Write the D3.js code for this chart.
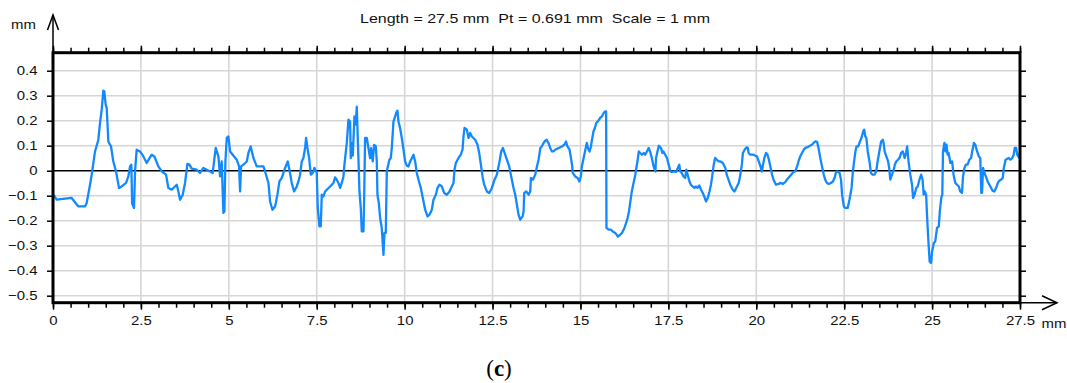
<!DOCTYPE html>
<html><head><meta charset="utf-8">
<script src="https://cdn.jsdelivr.net/npm/d3@7"></script>
<style>
html,body{margin:0;padding:0;background:#fff;}
svg{display:block;}
text{font-family:"Liberation Sans",Arial,sans-serif;}
</style></head>
<body><svg id="c" width="1067" height="383"></svg>
<script>
const titleText = "Length = 27.5 mm  Pt = 0.691 mm  Scale = 1 mm";
const xUnit = "mm", yUnit = "mm", caption = "c";
const xMajorTicks = [0,2.5,5,7.5,10,12.5,15,17.5,20,22.5,25,27.5];
const yTicks = [-0.5,-0.4,-0.3,-0.2,-0.1,0,0.1,0.2,0.3,0.4];

const profileX = [0,0.104,0.531,0.721,0.910,0.958,1.053,1.100,1.195,1.290,1.337,1.385,1.432,1.460,1.498,1.527,1.574,1.650,1.716,1.792,1.878,1.954,2.077,2.143,2.191,2.228,2.250,2.304,2.333,2.380,2.475,2.570,2.665,2.807,2.883,2.997,3.092,3.215,3.281,3.376,3.518,3.566,3.613,3.689,3.755,3.822,3.879,3.945,4.087,4.182,4.277,4.372,4.467,4.542,4.580,4.628,4.704,4.751,4.798,4.846,4.874,4.903,4.941,4.988,5.036,5.111,5.225,5.292,5.320,5.348,5.415,5.510,5.557,5.623,5.699,5.794,5.984,6.031,6.126,6.174,6.240,6.316,6.382,6.439,6.506,6.600,6.676,6.724,
6.790,6.856,6.932,6.979,7.027,7.074,7.122,7.169,7.198,7.236,7.283,7.331,7.387,7.435,7.482,7.501,7.529,7.577,7.615,7.643,7.691,7.738,7.786,7.880,7.975,8.023,8.070,8.118,8.165,8.212,8.260,8.288,8.355,8.402,8.449,8.468,8.497,8.525,8.573,8.610,8.639,8.667,8.686,8.715,8.753,8.781,8.829,8.848,8.876,8.924,8.971,9.018,9.047,9.094,9.132,9.180,9.208,9.227,9.265,9.303,9.350,9.398,9.426,9.464,9.493,9.568,9.606,9.635,9.682,9.730,9.758,9.796,9.825,9.872,9.919,9.967,10.014,10.062,10.109,10.157,10.204,10.252,10.299,10.346,10.394,10.460,10.517,10.583,10.650,10.707,10.773,10.820,10.887,10.935,10.992,11.058,11.124,11.200,11.276,11.342,11.390,11.418,11.456,11.532,11.598,11.646,11.674,11.703,11.769,11.817,11.864,11.911,12.006,12.073,12.120,12.168,12.215,12.262,12.338,12.405,12.481,12.556,12.623,12.699,12.746,12.794,12.860,12.908,12.974,13.031,13.097,13.145,13.192,13.240,13.287,13.354,13.382,13.401,13.458,13.524,13.572,13.591,13.648,13.714,13.762,13.809,
13.86,13.90,13.95,14.00,14.04,14.09,14.14,14.19,14.23,14.28,14.38,14.47,14.54,14.59,14.63,14.69,14.73,14.76,14.78,14.85,14.92,14.97,15.01,15.04,15.09,15.14,15.18,15.23,15.26,15.30,15.32,15.37,15.41,15.45,15.51,15.56,15.61,15.66,15.70,15.73,15.74,15.80,15.87,15.92,15.99,16.06,16.13,16.18,16.25,16.30,16.34,16.38,16.42,16.46,16.51,16.56,16.59,16.62,16.66,16.70,16.75,16.80,16.84,16.89,16.94,16.98,17.03,17.08,17.13,17.15,17.19,17.23,17.29,17.33,17.36,17.41,17.46,17.51,17.56,17.60,17.67,17.72,17.76,17.81,17.84,17.88,17.93,17.98,18.01,18.05,18.10,18.14,18.19,18.24,18.28,18.33,18.38,18.43,18.48,18.52,18.57,18.62,18.67,18.71,18.74,18.79,18.83,18.88,18.93,18.98,19.05,19.12,19.16,19.21,19.26,19.33,19.38,19.43,19.50,19.53,19.56,19.59,19.62,19.67,19.72,19.76,19.78,19.83,19.92,20.02,20.07,20.12,20.16,20.19,20.23,20.28,20.32,20.36,20.40,20.45,20.49,20.56,20.64,20.68,20.76,20.83,20.87,20.95,
21.01,21.06,21.11,21.16,21.20,21.25,21.30,21.35,21.39,21.44,21.49,21.54,21.58,21.63,21.68,21.73,21.77,21.82,21.87,21.92,21.96,22.01,22.06,22.12,22.18,22.23,22.27,22.31,22.37,22.41,22.44,22.49,22.53,22.60,22.65,22.71,22.74,22.77,22.82,22.85,22.90,22.95,22.99,23.04,23.07,23.10,23.13,23.17,23.22,23.26,23.31,23.36,23.41,23.45,23.50,23.55,23.60,23.62,23.65,23.70,23.75,23.78,23.81,23.86,23.91,23.94,23.98,24.03,24.08,24.12,24.17,24.22,24.26,24.29,24.33,24.38,24.43,24.46,24.50,24.55,24.59,24.64,24.69,24.73,24.76,24.79,24.83,24.86,24.89,24.93,24.97,25.00,25.05,25.09,25.14,25.19,25.22,25.26,25.29,25.31,25.35,25.38,25.41,25.44,25.47,25.52,25.57,25.61,25.66,25.71,25.76,25.80,25.85,25.88,25.92,25.96,26.01,26.06,26.11,26.14,26.19,26.23,26.28,26.33,26.37,26.40,26.42,26.45,26.49,26.53,26.58,26.63,26.68,26.72,26.77,26.82,26.87,26.91,26.96,27.01,27.04,27.09,27.13,27.18,27.23,27.28,27.32,27.35,27.39,27.42,27.47,27.50];

const profileY = [-0.093,-0.116,-0.109,-0.143,-0.143,-0.129,-0.056,-0.016,0.077,0.124,0.191,0.244,0.320,0.317,0.264,0.251,0.117,0.097,0.037,-0.003,-0.069,-0.063,-0.049,-0.023,0.017,0.024,-0.130,-0.149,-0.003,0.084,0.077,0.057,0.031,0.064,0.057,0.017,-0.003,-0.016,-0.069,-0.076,-0.056,-0.083,-0.116,-0.096,-0.049,0.027,0.024,0.008,0.004,-0.009,0.011,0.004,-0.003,-0.009,0.037,0.091,0.057,-0.023,0.037,-0.169,-0.163,0.037,0.131,0.137,0.077,0.064,0.044,0.017,-0.083,0.017,0.024,0.037,0.071,0.097,0.051,0.017,0.017,-0.003,-0.049,-0.123,-0.156,-0.143,-0.096,-0.043,-0.029,0.011,0.037,0.004,
-0.049,-0.083,-0.063,-0.043,-0.016,0.037,0.051,0.091,0.131,0.091,0.051,-0.016,-0.009,0.011,-0.003,-0.009,-0.149,-0.223,-0.223,-0.096,-0.103,-0.083,-0.076,-0.063,-0.049,-0.027,-0.036,-0.049,-0.069,-0.049,-0.023,0.024,0.111,0.204,0.197,0.050,0.110,0.060,0.217,0.184,0.256,0.131,0.051,-0.083,-0.150,-0.243,-0.243,-0.116,0.131,0.131,0.091,0.050,0.090,0.037,0.103,0.097,0.037,-0.096,-0.129,-0.189,-0.230,-0.337,-0.249,-0.249,0.000,0.044,0.051,0.091,0.196,0.217,0.231,0.240,0.197,0.170,0.131,0.084,0.037,0.020,0.017,0.037,0.050,0.064,0.037,-0.009,-0.036,-0.069,-0.109,-0.156,-0.183,-0.176,-0.156,-0.116,-0.096,-0.069,-0.056,-0.063,-0.089,-0.096,-0.083,-0.063,-0.049,0.004,0.031,0.051,0.064,0.084,0.137,0.171,0.164,0.131,0.151,0.137,0.124,0.104,0.071,0.024,-0.023,-0.056,-0.083,-0.089,-0.069,-0.036,-0.016,0.037,0.077,0.091,0.064,0.044,0.017,-0.023,-0.069,-0.096,-0.136,-0.176,-0.196,-0.183,-0.163,-0.089,-0.083,-0.096,-0.083,-0.029,-0.036,-0.016,0.017,0.044,
0.091,0.097,0.111,0.120,0.124,0.111,0.091,0.077,0.077,0.084,0.091,0.097,0.104,0.117,0.097,0.084,0.051,0.024,-0.009,-0.023,-0.029,-0.043,-0.023,0.017,0.051,0.084,0.111,0.084,0.077,0.097,0.117,0.157,0.171,0.191,0.200,0.211,0.217,0.231,0.237,0.237,-0.229,-0.236,-0.236,-0.243,-0.249,-0.263,-0.256,-0.249,-0.229,-0.209,-0.189,-0.163,-0.123,-0.083,-0.049,-0.016,0.011,0.037,0.077,0.071,0.064,0.071,0.064,0.077,0.091,0.077,0.051,0.017,-0.003,0.051,0.077,0.100,0.091,0.071,0.077,0.064,0.051,0.024,-0.003,-0.005,-0.003,-0.005,0.008,0.024,-0.003,-0.009,-0.023,-0.029,0.004,-0.016,-0.043,-0.056,-0.063,-0.069,-0.063,-0.069,-0.059,-0.076,-0.089,-0.103,-0.123,-0.109,-0.083,-0.056,-0.029,0.024,0.051,0.044,0.037,0.037,0.031,0.011,-0.016,-0.036,-0.056,-0.076,-0.083,-0.069,-0.049,-0.029,-0.003,0.024,0.071,0.084,0.093,0.091,0.071,0.064,0.064,0.057,0.037,0.017,-0.003,0.024,0.051,0.071,0.064,0.044,0.017,-0.016,-0.036,-0.056,-0.053,-0.049,-0.053,-0.045,-0.036,-0.023,
-0.013,-0.005,-0.003,0.017,0.037,0.057,0.071,0.084,0.091,0.093,0.097,0.101,0.104,0.111,0.117,0.115,0.091,0.051,0.017,-0.016,-0.036,-0.049,-0.053,-0.049,-0.043,-0.027,-0.005,-0.003,-0.009,-0.036,-0.096,-0.143,-0.149,-0.149,-0.116,-0.069,-0.016,0.024,0.077,0.097,0.097,0.117,0.131,0.157,0.164,0.137,0.131,0.077,0.037,-0.009,-0.016,-0.016,-0.003,0.037,0.077,0.117,0.124,0.111,0.077,0.057,0.037,0.011,-0.036,-0.016,0.004,0.024,0.037,0.044,0.053,0.071,0.077,0.051,0.071,0.097,0.037,-0.016,-0.056,-0.109,-0.096,-0.069,-0.063,-0.036,-0.016,-0.036,-0.096,-0.083,-0.096,-0.189,-0.269,-0.363,-0.369,-0.323,-0.289,-0.283,-0.229,-0.223,-0.163,-0.109,-0.096,0.077,0.111,0.077,0.104,0.064,0.071,0.031,0.037,-0.016,-0.049,-0.056,-0.063,-0.083,-0.089,-0.023,0.011,0.024,0.024,0.044,0.051,0.077,0.111,0.104,0.077,0.057,0.051,-0.089,-0.089,0.011,-0.009,-0.023,-0.043,-0.056,-0.069,-0.080,-0.083,-0.069,-0.049,-0.040,-0.036,-0.029,0.011,0.044,0.047,0.051,0.044,0.051,0.064,0.091,0.091,0.064,0.053,0.071];

const svg = d3.select("#c");
const L = 53, R = 1020, T = 52.7, B = 302.7;
const SX = 1.15; // horizontal stretch of the reference's lettering
const x = d3.scaleLinear().domain([0, 27.5]).range([L, R]);
const y = d3.scaleLinear().domain([-0.528, 0.472]).range([B, T]);
const minorTicks = d3.range(0, 27.51, 0.5);

// grid
const grid = svg.append("g");
grid.selectAll("line.v").data(xMajorTicks.filter(d => d > 0 && d < 27.5)).join("line")
  .attr("x1", d => x(d)).attr("x2", d => x(d)).attr("y1", T).attr("y2", B)
  .attr("stroke", "#d6d6d6").attr("stroke-width", 1.6);
grid.selectAll("line.h").data(yTicks.filter(d => d !== 0)).join("line")
  .attr("x1", L).attr("x2", R).attr("y1", d => y(d)).attr("y2", d => y(d))
  .attr("stroke", "#d6d6d6").attr("stroke-width", 1.6);
// zero line
svg.append("line").attr("x1", L).attr("x2", R).attr("y1", y(0)).attr("y2", y(0))
  .attr("stroke", "#000").attr("stroke-width", 1.5);

// profile
const data = profileX.map((d, i) => [d, profileY[i]]);
svg.append("path").datum(data)
  .attr("fill", "none").attr("stroke", "#1289ff").attr("stroke-width", 2.3)
  .attr("stroke-linejoin", "round")
  .attr("d", d3.line().x(d => x(d[0])).y(d => y(d[1])));

function styleAxis(g) {
  g.select(".domain").remove();
  g.selectAll(".tick line").attr("stroke", "#000").attr("stroke-width", 1.5);
  g.selectAll(".tick text").attr("fill", "#111").style("font-size", "13px")
    .style("font-family", '"Liberation Sans", Arial, sans-serif');
}
function stretchText(g) {
  g.selectAll(".tick text").each(function () {
    const t = d3.select(this);
    const tx = +t.attr("x") || 0;
    t.attr("x", 0).attr("transform", `translate(${tx},0) scale(${SX},1)`);
  });
}
// bottom axis
const gb = svg.append("g").attr("transform", `translate(0,${B})`)
  .call(d3.axisBottom(x).tickValues(minorTicks).tickSize(5).tickFormat(""));
styleAxis(gb);
const gbM = svg.append("g").attr("transform", `translate(0,${B})`)
  .call(d3.axisBottom(x).tickValues(xMajorTicks).tickSize(7).tickPadding(6).tickFormat(d3.format("")));
styleAxis(gbM); stretchText(gbM);
// top axis
const gt = svg.append("g").attr("transform", `translate(0,${T})`)
  .call(d3.axisTop(x).tickValues(minorTicks).tickSize(5).tickFormat(""));
styleAxis(gt);
const gtM = svg.append("g").attr("transform", `translate(0,${T})`)
  .call(d3.axisTop(x).tickValues(xMajorTicks).tickSize(7).tickFormat(""));
styleAxis(gtM);
// left axis
const gl = svg.append("g").attr("transform", `translate(${L},0)`)
  .call(d3.axisLeft(y).tickValues(yTicks).tickSize(6).tickPadding(9.5).tickFormat(d3.format("")));
styleAxis(gl); stretchText(gl);
// right axis
const gr = svg.append("g").attr("transform", `translate(${R},0)`)
  .call(d3.axisRight(y).tickValues(yTicks).tickSize(6).tickFormat(""));
styleAxis(gr);

// frame
svg.append("rect").attr("x", L).attr("y", T).attr("width", R - L).attr("height", B - T)
  .attr("fill", "none").attr("stroke", "#000").attr("stroke-width", 3);
// x axis extension + arrow
svg.append("line").attr("x1", R).attr("x2", 1057).attr("y1", B).attr("y2", B)
  .attr("stroke", "#000").attr("stroke-width", 1.5);
svg.append("path").attr("d", `M1042,${B-7} L1057,${B} L1042,${B+7}`)
  .attr("fill", "none").attr("stroke", "#000").attr("stroke-width", 1.5);
// y axis extension + arrow
svg.append("line").attr("x1", L).attr("x2", L).attr("y1", T).attr("y2", 15)
  .attr("stroke", "#000").attr("stroke-width", 1.5);
svg.append("path").attr("d", `M${L-5.5},30 L${L},15 L${L+5.5},30`)
  .attr("fill", "none").attr("stroke", "#000").attr("stroke-width", 1.5);

// units
svg.append("text").attr("transform", `translate(11,29) scale(${SX},1)`).text(yUnit)
  .style("font-size", "13px").attr("fill", "#111");
svg.append("text").attr("transform", `translate(1041.5,${B + 25}) scale(${SX},1)`).text(xUnit)
  .style("font-size", "13px").attr("fill", "#111");

// title
svg.append("text").attr("x", 360).attr("y", 23)
  .attr("xml:space", "preserve").style("white-space", "pre")
  .attr("textLength", 350).attr("lengthAdjust", "spacingAndGlyphs")
  .style("font-size", "13px").attr("fill", "#111").text(titleText);

// caption
const cap = svg.append("text").attr("x", 499).attr("y", 376).attr("text-anchor", "middle")
  .style("font-family", '"Liberation Serif", "DejaVu Serif", serif').style("font-size", "23px").attr("fill", "#000");
cap.append("tspan").text("(");
cap.append("tspan").attr("font-weight", "bold").text(caption);
cap.append("tspan").text(")");
</script>
</body></html>
